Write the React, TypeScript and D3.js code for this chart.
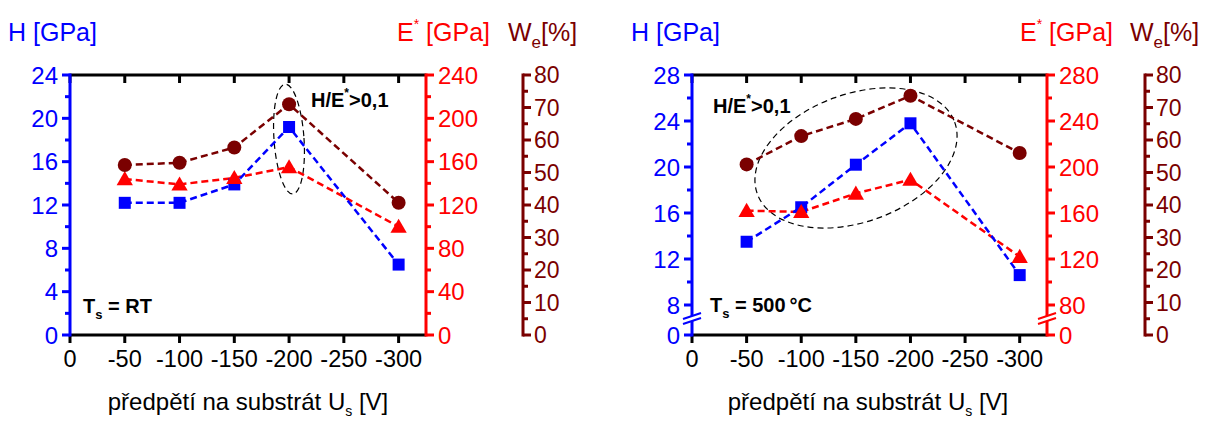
import React from "react";
import * as d3 from "d3";

// ---------- data ----------
const biasCategories = [-50, -100, -150, -200, -300];
const xTickValues = [0, -50, -100, -150, -200, -250, -300];

// Panel 1: Ts = RT
const hardnessRT = [12.2, 12.2, 13.9, 19.2, 6.5];
const modulusRT = [144, 139, 145, 155, 100];
const elasticRecoveryRT = [52.3, 53, 57.7, 71, 40.7];

// Panel 2: Ts = 500 °C
const hardness500 = [13.5, 16.5, 20.2, 23.8, 10.6];
const modulus500 = [162, 161, 177, 189, 122];
const elasticRecovery500 = [52.5, 61.2, 66.5, 73.6, 56];

const hTicksRT = [0, 4, 8, 12, 16, 20, 24];
const eTicksRT = [0, 40, 80, 120, 160, 200, 240];
const hTicks500 = [0, 8, 12, 16, 20, 24, 28];
const eTicks500 = [0, 80, 120, 160, 200, 240, 280];
const weTicks = [0, 10, 20, 30, 40, 50, 60, 70, 80];

const BLUE = "#0000ff";
const RED = "#ff0000";
const MAROON = "#7a0000";
const FONT = "'Liberation Sans', Arial, Helvetica, sans-serif";

type PanelCfg = {
  x0: number;
  x1: number;
  weX: number;
  hDomain: number[];
  eDomain: number[];
  yRange: number[];
  hTicks: number[];
  hMinor: number[];
  eTicks: number[];
  eMinor: number[];
  broken: boolean;
  h: number[];
  e: number[];
  we: number[];
  ellipse: { cx: number; cy: number; rx: number; ry: number; rot: number };
  ratioPos: [number, number];
  tsPos: [number, number];
  tsText: string;
  titles: { h: number; e: number; we: number };
  xLabelCx: number;
};

const TOP = 75;
const BOTTOM = 335;

const panels: PanelCfg[] = [
  {
    x0: 70,
    x1: 426,
    weX: 523,
    hDomain: [0, 24],
    eDomain: [0, 240],
    yRange: [BOTTOM, TOP],
    hTicks: hTicksRT,
    hMinor: d3.range(2, 24, 4),
    eTicks: eTicksRT,
    eMinor: d3.range(20, 240, 40),
    broken: false,
    h: hardnessRT,
    e: modulusRT,
    we: elasticRecoveryRT,
    ellipse: { cx: 289, cy: 139, rx: 15, ry: 55, rot: -4 },
    ratioPos: [311, 107],
    tsPos: [83, 313],
    tsText: "RT",
    titles: { h: 8, e: 397, we: 508 },
    xLabelCx: 248,
  },
  {
    x0: 692,
    x1: 1047,
    weX: 1145,
    hDomain: [0, 8, 28],
    eDomain: [0, 80, 280],
    yRange: [BOTTOM, 305, TOP],
    hTicks: hTicks500,
    hMinor: d3.range(10, 28, 4),
    eTicks: eTicks500,
    eMinor: d3.range(100, 280, 40),
    broken: true,
    h: hardness500,
    e: modulus500,
    we: elasticRecovery500,
    ellipse: { cx: 856, cy: 158, rx: 105, ry: 64, rot: -20 },
    ratioPos: [713, 113],
    tsPos: [710, 312],
    tsText: "500\u2009°C",
    titles: { h: 631, e: 1020, we: 1130 },
    xLabelCx: 868,
  },
];

function Panel({ p }: { p: PanelCfg }) {
  const x = d3.scaleLinear().domain([0, -325]).range([p.x0, p.x1]);
  const yH = d3.scaleLinear().domain(p.hDomain).range(p.yRange);
  const yE = d3.scaleLinear().domain(p.eDomain).range(p.yRange);
  const yW = d3.scaleLinear().domain([0, 80]).range([BOTTOM, TOP]);

  const lineFor = (vals: number[], ys: d3.ScaleLinear<number, number>) =>
    d3
      .line<number>()
      .x((_, i) => x(biasCategories[i]))
      .y((v) => ys(v))(vals) || "";

  const tri = d3.symbol().type(d3.symbolTriangle).size(115)() || "";

  const weMinor = d3.range(5, 80, 10);
  const breakY = 316;

  const breakMark = (bx: number, color: string) => (
    <g>
      <polygon
        points={`${bx - 9},${breakY + 3} ${bx + 9},${breakY - 3} ${bx + 9},${breakY + 2} ${bx - 9},${breakY + 8}`}
        fill="white"
      />
      <line x1={bx - 9} y1={breakY + 3} x2={bx + 9} y2={breakY - 3} stroke={color} strokeWidth={2} />
      <line x1={bx - 9} y1={breakY + 8} x2={bx + 9} y2={breakY + 2} stroke={color} strokeWidth={2} />
    </g>
  );

  return (
    <g fontFamily={FONT}>
      {/* frame top & bottom */}
      <line x1={p.x0} x2={p.x1} y1={TOP} y2={TOP} stroke="black" strokeWidth={3} />
      <line x1={p.x0} x2={p.x1} y1={BOTTOM} y2={BOTTOM} stroke="black" strokeWidth={3} />
      {xTickValues.map((t) => (
        <g key={t}>
          <line x1={x(t)} x2={x(t)} y1={TOP} y2={TOP + 8} stroke="black" strokeWidth={3} />
          <line x1={x(t)} x2={x(t)} y1={BOTTOM} y2={BOTTOM + 8} stroke="black" strokeWidth={3} />
          <text x={x(t)} y={367} textAnchor="middle" fontSize={23.5} fill="black">
            {t}
          </text>
        </g>
      ))}

      {/* left H axis */}
      <line x1={p.x0} x2={p.x0} y1={TOP - 1.5} y2={BOTTOM + 1.5} stroke={BLUE} strokeWidth={3} />
      {p.hTicks.map((t) => (
        <g key={t}>
          <line x1={p.x0 - 8} x2={p.x0} y1={yH(t)} y2={yH(t)} stroke={BLUE} strokeWidth={3} />
          <text x={p.x0 - 12} y={yH(t)} dy="0.36em" textAnchor="end" fontSize={24} fill={BLUE}>
            {t}
          </text>
        </g>
      ))}
      {p.hMinor.map((t) => (
        <line key={t} x1={p.x0 - 5} x2={p.x0} y1={yH(t)} y2={yH(t)} stroke={BLUE} strokeWidth={3} />
      ))}

      {/* right E axis */}
      <line x1={p.x1} x2={p.x1} y1={TOP - 1.5} y2={BOTTOM + 1.5} stroke={RED} strokeWidth={3} />
      {p.eTicks.map((t) => (
        <g key={t}>
          <line x1={p.x1} x2={p.x1 + 8} y1={yE(t)} y2={yE(t)} stroke={RED} strokeWidth={3} />
          <text x={p.x1 + 12} y={yE(t)} dy="0.36em" textAnchor="start" fontSize={24} fill={RED}>
            {t}
          </text>
        </g>
      ))}
      {p.eMinor.map((t) => (
        <line key={t} x1={p.x1} x2={p.x1 + 5} y1={yE(t)} y2={yE(t)} stroke={RED} strokeWidth={3} />
      ))}

      {p.broken && breakMark(p.x0, BLUE)}
      {p.broken && breakMark(p.x1, RED)}

      {/* We axis */}
      <line x1={p.weX} x2={p.weX} y1={TOP - 1.5} y2={BOTTOM + 1.5} stroke={MAROON} strokeWidth={3} />
      {weTicks.map((t) => (
        <g key={t}>
          <line x1={p.weX} x2={p.weX + 8} y1={yW(t)} y2={yW(t)} stroke={MAROON} strokeWidth={3} />
          <text x={p.weX + 11} y={yW(t)} dy="0.36em" textAnchor="start" fontSize={23} fill={MAROON}>
            {t}
          </text>
        </g>
      ))}
      {weMinor.map((t) => (
        <line key={t} x1={p.weX} x2={p.weX + 5} y1={yW(t)} y2={yW(t)} stroke={MAROON} strokeWidth={3} />
      ))}

      {/* ellipse */}
      <ellipse
        cx={0}
        cy={0}
        rx={p.ellipse.rx}
        ry={p.ellipse.ry}
        transform={`translate(${p.ellipse.cx},${p.ellipse.cy}) rotate(${p.ellipse.rot})`}
        fill="none"
        stroke="black"
        strokeWidth={1.2}
        strokeDasharray="6 4"
      />

      {/* lines */}
      <path d={lineFor(p.we, yW)} fill="none" stroke={MAROON} strokeWidth={2.5} strokeDasharray="7 4" />
      <path d={lineFor(p.e, yE)} fill="none" stroke={RED} strokeWidth={2.5} strokeDasharray="7 4" />
      <path d={lineFor(p.h, yH)} fill="none" stroke={BLUE} strokeWidth={2.5} strokeDasharray="7 4" />

      {/* markers */}
      {p.h.map((v, i) => (
        <rect key={"h" + i} x={x(biasCategories[i]) - 6} y={yH(v) - 6} width={12} height={12} fill={BLUE} />
      ))}
      {p.e.map((v, i) => (
        <path key={"e" + i} d={tri} transform={`translate(${x(biasCategories[i])},${yE(v) + 1.5})`} fill={RED} />
      ))}
      {p.we.map((v, i) => (
        <circle key={"w" + i} cx={x(biasCategories[i])} cy={yW(v)} r={7} fill={MAROON} />
      ))}

      {/* annotations */}
      <text x={p.ratioPos[0]} y={p.ratioPos[1]} fontSize={20} fontWeight="bold" fill="black">
        H/E
        <tspan dy={-10} fontSize={12}>*</tspan>
        <tspan dy={10}>&gt;0,1</tspan>
      </text>
      <text x={p.tsPos[0]} y={p.tsPos[1]} fontSize={20} fontWeight="bold" fill="black">
        T
        <tspan dy={6} fontSize={13}>s</tspan>
        <tspan dy={-6}>{" = " + p.tsText}</tspan>
      </text>

      {/* axis titles */}
      <text x={p.titles.h} y={41} fontSize={25} fill={BLUE}>
        H [GPa]
      </text>
      <text x={p.titles.e} y={41} fontSize={25} fill={RED}>
        E
        <tspan dy={-12} fontSize={14}>*</tspan>
        <tspan dy={12}>{" [GPa]"}</tspan>
      </text>
      <text x={p.titles.we} y={41} fontSize={25} fill={MAROON}>
        W
        <tspan dy={7} fontSize={17}>e</tspan>
        <tspan dy={-7}>[%]</tspan>
      </text>

      {/* x label */}
      <text x={p.xLabelCx} y={410} textAnchor="middle" fontSize={24} fill="black">
        předpětí na substrát U
        <tspan dy={6} fontSize={14}>s</tspan>
        <tspan dy={-6}>{" [V]"}</tspan>
      </text>
    </g>
  );
}

export default function App() {
  return (
    <svg
      width={1205}
      height={421}
      style={{ position: "absolute", left: 0, top: 0, background: "white" }}
    >
      <rect width={1205} height={421} fill="white" />
      {panels.map((p, i) => (
        <Panel key={i} p={p} />
      ))}
    </svg>
  );
}
